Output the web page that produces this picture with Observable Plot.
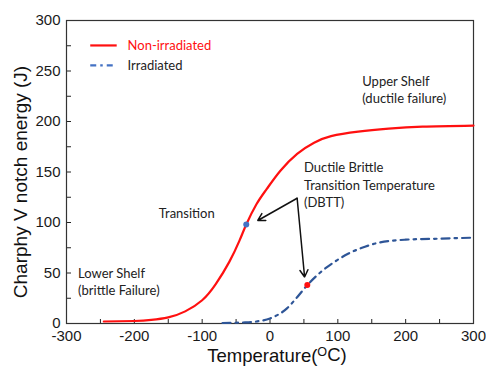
<!DOCTYPE html>
<html><head><meta charset="utf-8">
<script src="https://cdn.jsdelivr.net/npm/d3@7"></script>
<script src="https://cdn.jsdelivr.net/npm/@observablehq/plot@0.6"></script>
<style>body{margin:0;background:#fff}#chart{width:486px;height:372px}</style>
</head><body><div id="chart"></div>
<script>
// ---- data ----
const redTemp   = [-245,-200,-175,-150,-125,-100,-80,-60,-45,-35,-20,-5,15,40,65,90,130,175,225,300];
const redEnergy = [2,2.5,3.5,6,12,23,39,61,82,98,118,133,151,168,179,185.5,190,193,195,196];
const blueTemp   = [-70,-40,-20,0,25,40,55,75,95,115,140,160,200,250,300];
const blueEnergy = [0.5,1,2,5,15,26,38,51,61,69,76,80,83,84,85];
const xTickLabels = [-300,-200,-100,0,100,200,300];
const xMinorTicks = [-300,-250,-200,-150,-100,-50,0,50,100,150,200,250,300];
const yTickLabels = [0,50,100,150,200,250,300];
const yMinorTicks = [0,25,50,75,100,125,150,175,200,225,250,275,300];
const seriesNames = ["Non-irradiated","Irradiated"];
const dbttPoints = [{t:-35,e:98,series:"Non-irradiated"},{t:55,e:38,series:"Irradiated"}];
const notes = [
  {text:"Upper Shelf\n(ductile failure)", t:136, e:232},
  {text:"Ductile Brittle\nTransition Temperature\n(DBTT)", t:50, e:138},
  {text:"Transition", t:-164, e:110},
  {text:"Lower Shelf\n(brittle Failure)", t:-283, e:42}
];
const arrows = [
  {t1:40, e1:124, t2:-18, e2:102},
  {t1:40, e1:124, t2:51, e2:46}
];
const yLabel = "Charphy V notch energy (J)";
const xLabel = ["Temperature(", "O", "C)"];

// ---- layout / style ----
const RED = "#ff1010", BLUE = "#2e5597", LEGBLUE = "#4472c4";
const annFont = "Lato, 'Open Sans', sans-serif";
const legendLayout = {x1:-265, x2:-226, xt:-210, y:[275.3, 255.5]};

const red = redTemp.map((t,i)=>({t, e:redEnergy[i]}));
const blue = blueTemp.map((t,i)=>({t, e:blueEnergy[i]}));

const chart = Plot.plot({
  width: 486, height: 372,
  marginLeft: 66, marginRight: 13, marginTop: 20, marginBottom: 49,
  style: {fontFamily: "'Liberation Sans', Arial, sans-serif", fontSize: "15px", color: "#1a1a1a", background: "#fff", overflow: "visible"},
  x: {domain: [-300, 300], label: null},
  y: {domain: [0, 300], label: null},
  marks: [
    Plot.axisX(xMinorTicks, {tickSize: -4, tickFormat: () => "", label: null, stroke: "#222"}),
    Plot.axisX(xTickLabels, {tickSize: 0, tickPadding: 7, tickFormat: d => String(d), label: null}),
    Plot.axisY(yMinorTicks, {tickSize: -5, tickFormat: () => "", label: null, stroke: "#222"}),
    Plot.axisY(yTickLabels, {tickSize: 0, tickPadding: 6, tickFormat: d => String(d), label: null}),
    Plot.frame({stroke: "#333", strokeWidth: 1.2}),
    Plot.line(red, {x: "t", y: "e", stroke: RED, strokeWidth: 2.2, curve: "natural"}),
    Plot.line(blue, {x: "t", y: "e", stroke: BLUE, strokeWidth: 2.2, curve: "monotone-x", strokeDasharray: "8,5,2.5,5"}),
    Plot.arrow(arrows, {x1: "t1", y1: "e1", x2: "t2", y2: "e2", stroke: "#111", strokeWidth: 1.5, headLength: 8, bend: 0}),
    Plot.dot(dbttPoints, {x: "t", y: "e", r: 3, fill: d => d.series === "Irradiated" ? RED : LEGBLUE}),
    Plot.text(notes, {x: "t", y: "e", text: "text", textAnchor: "start", lineAnchor: "middle", fontSize: 13, lineHeight: 1.32, fontFamily: annFont, fill: "#222"}),
    // legend
    Plot.link([seriesNames[0]], {x1: legendLayout.x1, x2: legendLayout.x2, y1: () => legendLayout.y[0], y2: () => legendLayout.y[0], stroke: RED, strokeWidth: 2.2}),
    Plot.link([seriesNames[1]], {x1: legendLayout.x1, x2: legendLayout.x2, y1: () => legendLayout.y[1], y2: () => legendLayout.y[1], stroke: LEGBLUE, strokeWidth: 2.2, strokeDasharray: "6,4,2.5,4"}),
    Plot.text(seriesNames, {x: legendLayout.xt, y: (d,i) => legendLayout.y[i], text: d => d, textAnchor: "start", fontSize: 13, fontFamily: annFont, fill: (d,i) => i === 0 ? RED : "#222"}),
    // axis titles
    Plot.text([yLabel], {frameAnchor: "left", dx: -46, dy: 10, rotate: -90, text: d => d, textAnchor: "middle", fontSize: 19, fill: "#111"}),
    Plot.text([xLabel.join("")], {frameAnchor: "bottom", dx: 7, dy: 38, text: d => d, textAnchor: "middle", fontSize: 18.5, fill: "#111"})
  ]
});
document.getElementById("chart").appendChild(chart);

// superscript in x label
d3.select(chart).selectAll("text").filter(function(){ return this.textContent === xLabel.join(""); })
  .each(function(){
    const t = d3.select(this);
    t.text(null);
    t.append("tspan").text(xLabel[0]);
    t.append("tspan").attr("dy", "-0.45em").attr("font-size", "0.68em").text(xLabel[1]);
    t.append("tspan").attr("dy", "0.3em").text(xLabel[2]);
  });
</script>
</body></html>
